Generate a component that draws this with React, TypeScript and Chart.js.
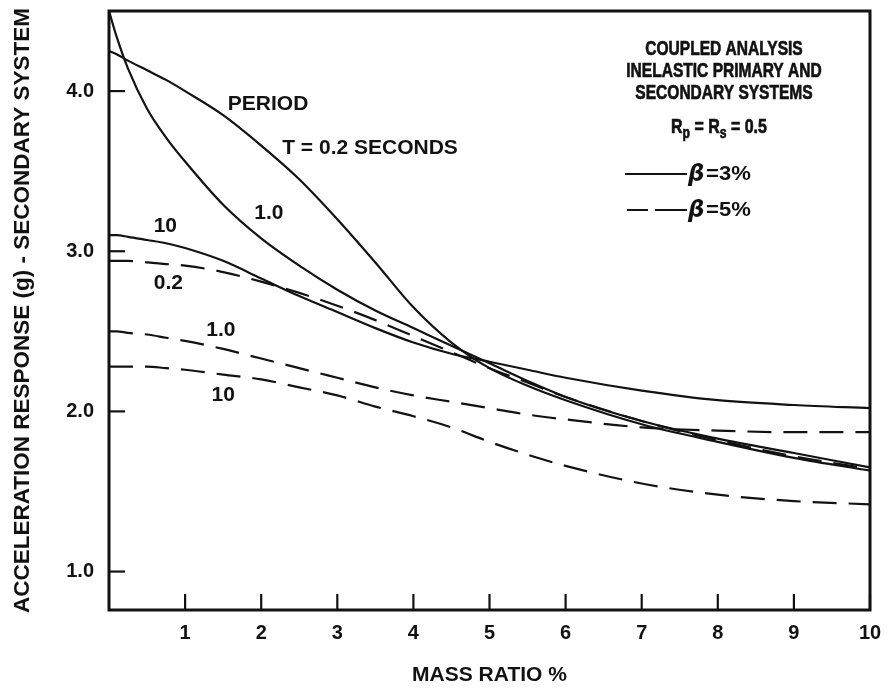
import { useEffect, useRef } from "react";
import { Chart, registerables } from "chart.js";

Chart.register(...registerables);

// ---------- data ----------
const massRatio = [0, 0.1, 0.25, 0.5, 0.75, 1, 1.5, 2, 2.5, 3, 3.5, 4, 4.5, 5, 5.5, 6, 7, 8, 9, 10];

// beta = 3% (solid)
const solidT02 = [4.25, 4.23, 4.19, 4.13, 4.07, 4.0, 3.85, 3.66, 3.45, 3.2, 2.93, 2.65, 2.43, 2.27, 2.16, 2.07, 1.92, 1.81, 1.71, 1.63];
const solidT1 = [4.5, 4.34, 4.14, 3.89, 3.71, 3.56, 3.29, 3.08, 2.91, 2.76, 2.63, 2.52, 2.41, 2.3, 2.19, 2.09, 1.94, 1.83, 1.74, 1.65];
const solidT10 = [3.1, 3.1, 3.09, 3.07, 3.05, 3.02, 2.94, 2.83, 2.72, 2.62, 2.52, 2.43, 2.36, 2.31, 2.26, 2.21, 2.13, 2.07, 2.04, 2.02];

// beta = 5% (dashed)
const dashedT02 = [2.94, 2.94, 2.94, 2.93, 2.92, 2.91, 2.87, 2.81, 2.74, 2.66, 2.57, 2.47, 2.37, 2.27, 2.18, 2.09, 1.94, 1.82, 1.72, 1.64];
const dashedT1 = [2.5, 2.5, 2.49, 2.48, 2.46, 2.44, 2.39, 2.33, 2.27, 2.21, 2.15, 2.1, 2.06, 2.02, 1.98, 1.95, 1.9, 1.88, 1.87, 1.87];
const dashedT10 = [2.28, 2.28, 2.28, 2.28, 2.27, 2.26, 2.23, 2.2, 2.15, 2.1, 2.03, 1.97, 1.9, 1.81, 1.73, 1.66, 1.55, 1.48, 1.44, 1.42];

const xTickValues = [1, 2, 3, 4, 5, 6, 7, 8, 9, 10];
const yTickValues = [1, 2, 3, 4];

const xTitle = "MASS RATIO %";
const yTitle = "ACCELERATION RESPONSE (g) - SECONDARY SYSTEM";

const curveLabelTexts = ["PERIOD", "T = 0.2 SECONDS", "1.0", "10", "0.2", "1.0", "10"];
const curveLabelX = [2.09, 3.43, 2.1, 0.74, 0.78, 1.47, 1.5];
const curveLabelY = [3.92, 3.645, 3.235, 3.155, 2.8, 2.505, 2.1];

const legendTitleLines = ["COUPLED ANALYSIS", "INELASTIC PRIMARY AND", "SECONDARY SYSTEMS"];
const legendEntries = ["=3%", "=5%"];

// ---------- styling ----------
const FONT = "'Liberation Sans', Arial, Helvetica, sans-serif";
const INK = "#121212";

function condensedText(ctx: CanvasRenderingContext2D, text: string, x: number, y: number, sx: number, heavy = false) {
  ctx.save();
  ctx.translate(x, y);
  ctx.scale(sx, 1);
  ctx.fillText(text, 0, 0);
  if (heavy) {
    ctx.lineWidth = 0.7;
    ctx.strokeText(text, 0, 0);
  }
  ctx.restore();
}

const decorPlugin = {
  id: "decor",
  afterDatasetsDraw(chart: any) {
    const { ctx, chartArea: ca, scales } = chart;
    const xs = scales.x;
    const ys = scales.y;
    ctx.save();
    ctx.strokeStyle = INK;
    ctx.fillStyle = INK;
    ctx.lineCap = "butt";

    // inward tick marks
    ctx.lineWidth = 2.2;
    xs.ticks.forEach((t: any) => {
      const px = xs.getPixelForValue(t.value);
      ctx.beginPath();
      ctx.moveTo(px, ca.bottom);
      ctx.lineTo(px, ca.bottom - 16);
      ctx.stroke();
    });
    ys.ticks.forEach((t: any) => {
      const py = ys.getPixelForValue(t.value);
      ctx.beginPath();
      ctx.moveTo(ca.left, py);
      ctx.lineTo(ca.left + 16, py);
      ctx.stroke();
    });

    // frame
    ctx.lineWidth = 3;
    ctx.strokeRect(ca.left, ca.top, ca.right - ca.left, ca.bottom - ca.top);

    // curve labels
    ctx.font = `bold 21px ${FONT}`;
    ctx.textAlign = "center";
    ctx.textBaseline = "middle";
    curveLabelTexts.forEach((t, i) => {
      ctx.fillText(t, xs.getPixelForValue(curveLabelX[i]), ys.getPixelForValue(curveLabelY[i]));
    });

    // legend block (top right)
    const cx = 724;
    ctx.font = `bold 21px ${FONT}`;
    ctx.textAlign = "left";
    const sx = 0.74;
    const titleYs = [49, 71, 93];
    legendTitleLines.forEach((line, i) => {
      const w = ctx.measureText(line).width * sx;
      condensedText(ctx, line, cx - w / 2, titleYs[i], sx, true);
    });

    // Rp = Rs = 0.5
    const parts: [string, boolean][] = [["R", false], ["p", true], [" = R", false], ["s", true], [" = 0.5", false]];
    const sx2 = 0.76;
    let total = 0;
    parts.forEach(([t, sub]) => {
      ctx.font = sub ? `bold 16px ${FONT}` : `bold 21px ${FONT}`;
      total += ctx.measureText(t).width * sx2;
    });
    let px = 719 - total / 2;
    parts.forEach(([t, sub]) => {
      ctx.font = sub ? `bold 16px ${FONT}` : `bold 21px ${FONT}`;
      condensedText(ctx, t, px, sub ? 134 : 127, sx2, true);
      px += ctx.measureText(t).width * sx2;
    });

    // line samples
    const entryYs = [174, 210];
    ctx.lineWidth = 2;
    entryYs.forEach((ey, i) => {
      ctx.lineWidth = 2;
      ctx.setLineDash(i === 0 ? [] : [21, 7, 32, 0]);
      ctx.beginPath();
      ctx.moveTo(i === 0 ? 625 : 627, ey);
      ctx.lineTo(687, ey);
      ctx.stroke();
      ctx.setLineDash([]);
      ctx.font = `italic bold 23px 'DejaVu Sans', ${FONT}`;
      ctx.fillText("\u03B2", 688, ey + 1);
      ctx.font = `bold 21px ${FONT}`;
      condensedText(ctx, legendEntries[i], 706, ey, 1.05);
    });

    ctx.restore();
  },
};

function pts(ys: number[]) {
  return massRatio.map((x, i) => ({ x, y: ys[i] }));
}

function zeroPadding(s: any) {
  s.paddingTop = 0;
  s.paddingBottom = 0;
  s.paddingLeft = 0;
  s.paddingRight = 0;
}

export default function App() {
  const canvasRef = useRef<HTMLCanvasElement | null>(null);

  useEffect(() => {
    const canvas = canvasRef.current;
    if (!canvas) return;
    const base = {
      borderColor: INK,
      borderWidth: 2.2,
      pointRadius: 0,
      fill: false,
      cubicInterpolationMode: "monotone" as const,
    };
    const dash = [24, 12];
    const tickFont = { family: FONT, size: 20, weight: "bold" as const };
    const chart = new Chart(canvas, {
      type: "line",
      data: {
        datasets: [
          { ...base, label: "T=0.2 β=3%", data: pts(solidT02) },
          { ...base, label: "T=1.0 β=3%", data: pts(solidT1) },
          { ...base, label: "T=10 β=3%", data: pts(solidT10) },
          { ...base, label: "T=0.2 β=5%", data: pts(dashedT02), borderDash: dash },
          { ...base, label: "T=1.0 β=5%", data: pts(dashedT1), borderDash: dash },
          { ...base, label: "T=10 β=5%", data: pts(dashedT10), borderDash: dash },
        ],
      },
      options: {
        animation: false,
        responsive: false,
        layout: { padding: { top: 11, right: 18, left: 0, bottom: 0 } },
        plugins: { legend: { display: false }, tooltip: { enabled: false } },
        scales: {
          x: {
            type: "linear",
            min: 0,
            max: 10,
            afterBuildTicks: (s: any) => {
              s.ticks = xTickValues.map((v) => ({ value: v }));
            },
            afterFit: (s: any) => {
              s.height = 80;
              zeroPadding(s);
            },
            grid: { display: false, drawTicks: false },
            border: { display: false },
            ticks: {
              autoSkip: false,
              maxRotation: 0,
              padding: 11,
              color: INK,
              font: tickFont,
              callback: (v: any) => String(v),
            },
            title: {
              display: true,
              text: xTitle,
              color: INK,
              font: { family: FONT, size: 21, weight: "bold" },
              padding: { top: 0, bottom: 2 },
            },
          },
          y: {
            type: "linear",
            min: 0.76,
            max: 4.5,
            afterBuildTicks: (s: any) => {
              s.ticks = yTickValues.map((v) => ({ value: v }));
            },
            afterFit: (s: any) => {
              s.width = 109;
              zeroPadding(s);
            },
            grid: { display: false, drawTicks: false },
            border: { display: false },
            ticks: {
              autoSkip: false,
              padding: 15,
              color: INK,
              font: tickFont,
              callback: (v: any) => Number(v).toFixed(1),
            },
            title: {
              display: true,
              text: yTitle,
              color: INK,
              font: { family: FONT, size: 22.5, weight: "bold" },
              padding: { top: 9, bottom: 0 },
            },
          },
        },
      },
      plugins: [decorPlugin],
    });
    return () => chart.destroy();
  }, []);

  return (
    <div style={{ position: "absolute", left: 0, top: 0, width: 888, height: 690, background: "#fff" }}>
      <canvas ref={canvasRef} width={888} height={690} style={{ display: "block" }} />
    </div>
  );
}
